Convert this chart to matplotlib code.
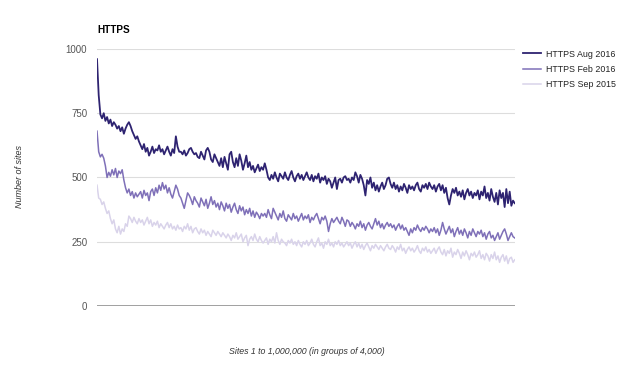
import numpy as np
import matplotlib
matplotlib.use("Agg")
import matplotlib.pyplot as plt

plt.rcParams['font.family'] = ['Liberation Sans', 'DejaVu Sans']

title = "HTTPS"
series_names = ["HTTPS Aug 2016", "HTTPS Feb 2016", "HTTPS Sep 2015"]
y_ticks = [0, 250, 500, 750, 1000]

aug_2016 = [
    960, 820, 745, 730, 750, 720, 735, 710, 725, 700, 715, 705, 690, 700, 680, 695, 670, 690, 705, 715, 700, 680, 665, 650, 660,
    640, 625, 610, 630, 600, 615, 585, 600, 620, 595, 610, 605, 625, 600, 610, 590, 605, 620, 600, 585, 610, 595, 660, 620, 600,
    600, 590, 605, 585, 595, 610, 615, 600, 590, 595, 580, 575, 600, 585, 570, 605, 615, 600, 570, 560, 590, 575, 560, 545, 575,
    540, 580, 555, 530, 590, 600, 560, 540, 575, 545, 590, 565, 530, 555, 585, 540, 560, 530, 545, 520, 535, 550, 525, 540, 530,
    555, 530, 500, 490, 510, 495, 520, 500, 485, 515, 505, 495, 520, 500, 490, 510, 525, 500, 485, 505, 515, 495, 510, 490, 505,
    520, 500, 490, 510, 485, 505, 495, 515, 480, 500, 490, 505, 475, 495, 485, 460, 480, 500, 455, 490, 495, 480, 500, 505, 490,
    495, 480, 500, 490, 520, 505, 480, 510, 495, 470, 430, 490, 475, 500, 460, 480, 450, 470, 445, 465, 480, 455, 470, 495, 500,
    475, 460, 480, 455, 470, 445, 465, 450, 475, 460, 440, 470, 455, 465, 450, 470, 480, 455, 445, 470, 460, 475, 455, 480, 465,
    455, 470, 445, 465, 475, 450, 470, 440, 460, 420, 395, 430, 455, 440, 460, 430, 445, 425, 450, 415, 440, 455, 430, 445, 420,
    440, 430, 450, 415, 445, 430, 465, 420, 440, 410, 455, 425, 405, 440, 395, 450, 420, 440, 385, 455, 400, 445, 390, 410, 400,
]

feb_2016 = [
    680, 600, 580, 590, 575, 545, 500, 520, 505, 530, 510, 535, 500, 525, 515, 530, 490, 460, 440, 455, 430, 445, 420, 440, 425,
    435, 445, 420, 450, 430, 440, 410, 445, 455, 430, 460, 440, 470, 450, 480, 455, 470, 440, 460, 435, 420, 445, 470, 455, 430,
    420, 400, 380, 410, 440, 430, 415, 395, 425, 410, 400, 385, 420, 405, 390, 415, 380, 400, 425, 395, 410, 385, 400, 375, 405,
    390, 370, 400, 380, 395, 365, 385, 400, 375, 360, 390, 370, 385, 355, 375, 360, 380, 350, 370, 345, 365, 355, 340, 360, 350,
    360, 345, 375, 355, 340, 380, 365, 350, 335, 360, 345, 370, 340, 330, 355, 345, 335, 360, 340, 350, 330, 345, 360, 335, 350,
    340, 355, 325, 345, 335, 350, 360, 340, 320, 345, 335, 350, 330, 290, 320, 340, 325, 335, 345, 330, 320, 345, 330, 310, 335,
    330, 310, 325, 315, 300, 320, 310, 330, 305, 320, 295, 315, 325, 310, 300, 320, 340, 315, 330, 305, 320, 300, 315, 325, 310,
    320, 305, 315, 295, 310, 320, 300, 315, 295, 305, 290, 275, 300, 285, 305, 295, 315, 300, 290, 305, 295, 310, 300, 285, 300,
    290, 305, 285, 300, 275, 295, 325, 300, 280, 295, 310, 285, 300, 270, 290, 305, 280, 295, 275, 300, 285, 265, 290, 275, 300,
    285, 270, 290, 280, 295, 270, 285, 260, 280, 290, 265, 275, 255, 270, 285, 260, 275, 290, 300, 280, 255, 270, 285, 270, 265,
]

sep_2015 = [
    470, 420, 415, 395, 405, 380, 360, 370, 340, 320, 335, 300, 285, 310, 280, 300, 290, 320, 310, 350, 340, 325, 345, 330, 320,
    340, 325, 335, 315, 330, 345, 320, 335, 310, 325, 315, 330, 305, 320, 310, 300, 315, 325, 305, 320, 300, 310, 295, 315, 300,
    305, 290, 310, 300, 320, 295, 310, 285, 300, 305, 290, 280, 300, 285, 295, 275, 290, 280, 270, 295, 285, 275, 290, 280, 270,
    285, 275, 265, 280, 270, 255, 275, 265, 285, 260, 270, 280, 250, 265, 275, 235, 260, 270, 255, 280, 260, 250, 270, 255, 245,
    255, 265, 240, 260, 250, 270, 245, 285, 255, 240, 260, 250, 245, 235, 255, 245, 260, 240, 250, 235, 255, 240, 230, 250, 240,
    255, 235, 245, 260, 240, 230, 250, 265, 235, 245, 225, 250, 240, 260, 235, 245, 230, 250, 240, 255, 235, 245, 230, 240, 250,
    235, 245, 225, 240, 250, 230, 245, 225, 240, 220, 235, 245, 230, 215, 235, 225, 240, 230, 220, 235, 225, 215, 230, 240, 225,
    220, 235, 225, 210, 230, 220, 240, 215, 225, 205, 220, 230, 215, 225, 210, 220, 235, 215, 205, 225, 215, 230, 210, 220, 205,
    215, 225, 205, 220, 230, 210, 200, 220, 195, 215, 205, 225, 190, 210, 200, 220, 205, 185, 210, 195, 215, 200, 180, 205, 195,
    210, 190, 200, 215, 185, 200, 180, 205, 195, 175, 200, 185, 210, 180, 195, 170, 190, 200, 175, 195, 165, 185, 190, 170, 180,
]

colors = ["#2e2371", "#7f70b8", "#d9d3ea"]
widths = [1.3, 1.1, 1.1]

fig = plt.figure(figsize=(6.3, 3.76), dpi=100)
ax = fig.add_axes([0.154, 0.186, 0.663, 0.684])

data = [aug_2016, feb_2016, sep_2015]
for vals, c, w, name in reversed(list(zip(data, colors, widths, series_names))):
    ax.plot(np.arange(len(vals)), vals, color=c, lw=w, label=name, zorder=3)

ax.set_xlim(0, len(aug_2016) - 1)
ax.set_ylim(0, 1000)
ax.set_yticks(y_ticks)
ax.set_yticklabels([str(t) for t in y_ticks], color="#555555", fontsize=7)
ax.set_xticks([])
ax.tick_params(axis='y', length=0, pad=7)
for t in y_ticks:
    if t == 0:
        ax.axhline(t, color="#999999", lw=1.3, zorder=1)
    else:
        ax.axhline(t, color="#dddddd", lw=0.8, zorder=1)
for s in ax.spines.values():
    s.set_visible(False)

fig.text(97 / 630, 1 - 30 / 376, title, fontsize=7.2, fontweight="bold", color="#000000", va="center", ha="left")
fig.text(20 / 630, 1 - 177 / 376, "Number of sites", fontsize=6.5, style="italic", color="#333333",
         rotation=90, va="center", ha="center")
fig.text(307 / 630, 1 - 352 / 376, "Sites 1 to 1,000,000 (in groups of 4,000)", fontsize=6.3, style="italic",
         color="#333333", va="center", ha="center")

# legend
handles, labels = ax.get_legend_handles_labels()
handles = handles[::-1]
labels = labels[::-1]
leg = fig.legend(handles, labels, loc="upper left", bbox_to_anchor=(519 / 630, 1 - 46 / 376),
                 frameon=False, fontsize=6.4, handlelength=2.1, handletextpad=0.55, labelspacing=0.72,
                 borderaxespad=0)
for txt in leg.get_texts():
    txt.set_color("#222222")

fig.savefig("out.png", dpi=100)
